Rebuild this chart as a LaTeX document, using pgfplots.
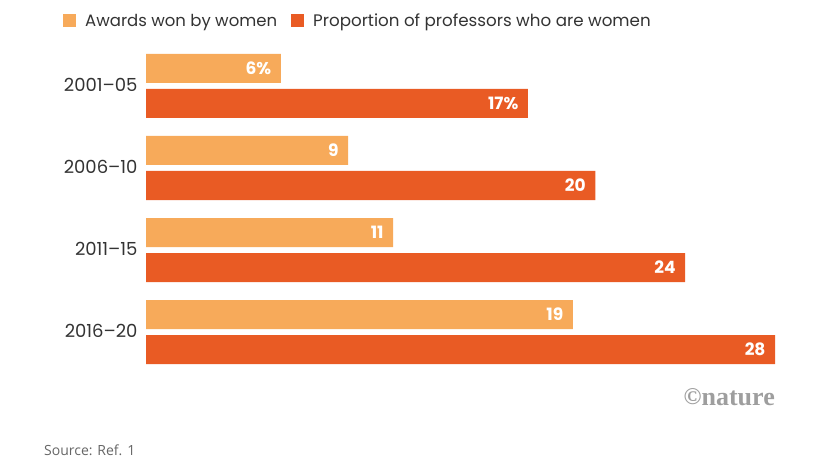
\documentclass[border=0pt]{standalone}
\usepackage{fontspec}
\setmainfont{Poppins}
\newfontfamily\srcfont{Open Sans}
\newfontfamily\logofont{Liberation Serif}
\usepackage{pgfplots}
\pgfplotsset{compat=1.18}
\definecolor{awardc}{HTML}{F7AA5A}
\definecolor{profc}{HTML}{E95B24}
\definecolor{labgray}{HTML}{333333}

\pgfplotstableread{
y x lab
3 6 6\%
2 9 9
1 11 11
0 19 19
}\awards
\pgfplotstableread{
y x lab
3 17 17\%
2 20 20
1 24 24
0 28 28
}\profs

\begin{document}
\begin{tikzpicture}[x=1bp,y=1bp]
\path[use as bounding box] (0,0) rectangle (826,-464);
\begin{axis}[
  at={(146bp,-45bp)}, anchor=north west,
  scale only axis, width=629bp, height=328bp,
  xmin=0, xmax=28, ymin=-0.5, ymax=3.5,
  xbar, bar width=29bp,
  axis line style={draw=none}, major tick length=0pt,
  xtick=\empty,
  ytick={0,1,2,3},
  yticklabels={2016--20,2011--15,2006--10,2001--05},
  yticklabel style={font=\fontsize{18bp}{20bp}\selectfont, text=labgray, xshift=-5bp, yshift=1bp},
  point meta=explicit symbolic,
  nodes near coords,
  every node near coord/.append style={anchor=east, xshift=-6bp, text=white,
    font=\fontsize{17bp}{19bp}\selectfont\bfseries},
  clip=false,
]
\addplot[fill=awardc, draw=none, bar shift=17.5bp] table[x=x, y=y, meta=lab] {\awards};
\addplot[fill=profc, draw=none, bar shift=-17.5bp] table[x=x, y=y, meta=lab] {\profs};
\end{axis}
% legend
\fill[awardc] (63,-14) rectangle (76,-27);
\node[anchor=base west, inner sep=0pt, text=labgray, font=\fontsize{16.5bp}{19bp}\selectfont] at (85,-27) {Awards won by women};
\fill[profc] (291,-14) rectangle (304,-27);
\node[anchor=base west, inner sep=0pt, text=labgray, font=\fontsize{16.7bp}{19bp}\selectfont] at (313,-27) {Proportion of professors who are women};
% credit and source
\node[anchor=east, inner sep=0pt, text=black!38, font=\logofont\fontsize{26bp}{28bp}\selectfont\bfseries] at (775,-397) {\raisebox{1bp}{\normalfont\logofont\fontsize{24bp}{26bp}\selectfont\bfseries\textcopyright}nature};
\node[anchor=west, inner sep=0pt, text=black!60, font=\srcfont\fontsize{14bp}{16bp}\selectfont] at (44,-450) {Source: Ref. 1};
\end{tikzpicture}
\end{document}
